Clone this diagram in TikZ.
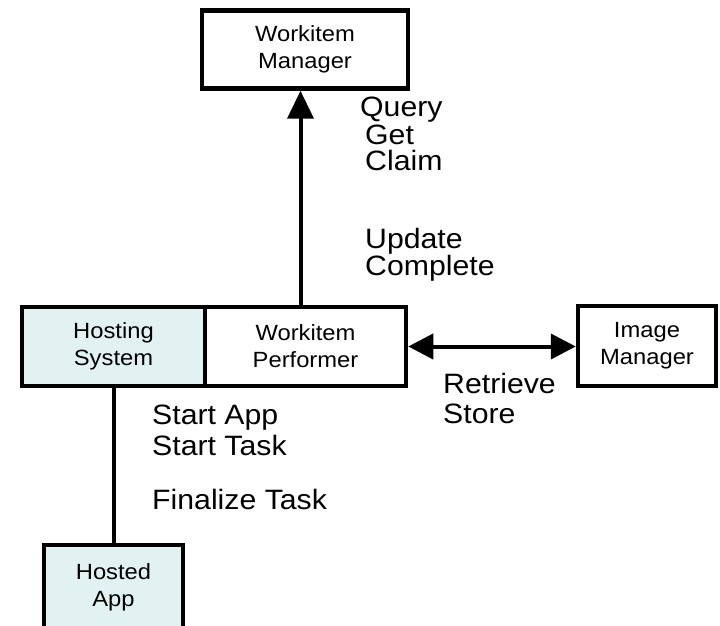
\documentclass[tikz,border=0pt]{standalone}
\usepackage{fontspec}
\setmainfont{Liberation Sans}
\usetikzlibrary{arrows.meta}
\definecolor{hostfill}{RGB}{226,242,242}
\newcommand{\sx}[1]{\scalebox{1.08}[1]{#1}}
\tikzset{
  box/.style={draw=black, line width=4.5pt, inner sep=0pt, align=center,
    font=\fontsize{22}{27}\selectfont},
  lbl/.style={anchor=base west, inner sep=0pt, font=\fontsize{28}{28}\selectfont},
  conn/.style={line width=4pt},
}
\begin{document}
\begin{tikzpicture}[x=1pt,y=1pt]
\useasboundingbox (0,0) rectangle (720,625);
\node[box, fill=white, minimum width=206pt, minimum height=78pt] (wim) at (305,575.5) {\sx{Workitem}\\\sx{Manager}};
\node[box, fill=hostfill, minimum width=183pt, minimum height=79pt] (hs) at (113.5,278.5) {\sx{Hosting}\\\sx{System}};
\node[box, fill=white, minimum width=201pt, minimum height=79pt] (wp) at (305.5,278.5) {\sx{Workitem}\\\sx{Performer}};
\node[box, fill=white, minimum width=138pt, minimum height=80pt] (im) at (647,279) {\sx{Image}\\\sx{Manager}};
\node[box, fill=hostfill, minimum width=139pt, minimum height=100pt] (ha) at (113.5,30) {};
\node[inner sep=0pt, align=center, font=\fontsize{22}{27}\selectfont] (hat) at (113.5,38) {\sx{Hosted}\\\sx{App}};
\draw[conn, -{Triangle[length=28pt,width=26pt]}] ([xshift=-5pt]wp.north) -- ([xshift=-5pt]wp.north |- wim.south);
\draw[conn, {Triangle[length=25pt,width=25pt]}-{Triangle[length=25pt,width=25pt]}] (wp.east) -- (wp.east -| im.west);
\draw[conn] (hs.south) -- (ha.north);
\node[lbl] (l1) at (360,508) {\sx{Query}};
\node[lbl] (l2) at (365,480) {\sx{Get}};
\node[lbl] (l3) at (365,454) {\sx{Claim}};
\node[lbl] (l4) at (365,377) {\sx{Update}};
\node[lbl] (l5) at (365,350) {\sx{Complete}};
\node[lbl] (l6) at (443,232) {\sx{Retrieve}};
\node[lbl] (l7) at (443,202) {\sx{Store}};
\node[lbl] (l8) at (152,201) {\sx{Start App}};
\node[lbl] (l9) at (152,170) {\sx{Start Task}};
\node[lbl] (l10) at (152,116) {\sx{Finalize Task}};
\end{tikzpicture}
\end{document}
